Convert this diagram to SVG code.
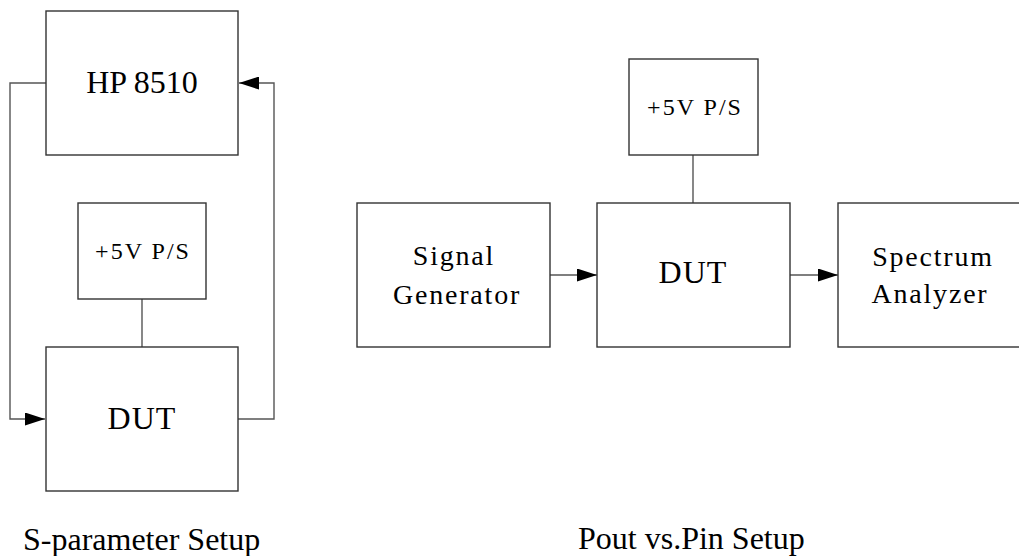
<svg xmlns="http://www.w3.org/2000/svg" width="1019" height="556" viewBox="0 0 1019 556">
<defs>
<style>
.box{fill:#fff;stroke:#333;stroke-width:1.4}
.wire{fill:none;stroke:#555;stroke-width:1.4}
.t{font-family:"Liberation Serif","Times New Roman",serif;fill:#000;text-anchor:middle}
.big{font-size:32px}
.ps{font-size:24px;letter-spacing:2px}
.mid{font-size:28px;letter-spacing:1.8px}
.cap{font-family:"Liberation Serif","Times New Roman",serif;fill:#000;font-size:32px}
</style>
<marker id="arr" viewBox="0 0 20 13" refX="20" refY="6.5" markerWidth="20" markerHeight="13" markerUnits="userSpaceOnUse" orient="auto">
<path d="M0,0 L20,6.5 L0,13 Z" fill="#000"/>
</marker>
</defs>
<rect width="1019" height="556" fill="#fff"/>
<g id="connectors">
<path class="wire" d="M46,83 H10 V419 H45" marker-end="url(#arr)"/>
<path class="wire" d="M238,419 H274 V83 H239" marker-end="url(#arr)"/>
<path class="wire" d="M142,299 V347"/>
<path class="wire" d="M550,275 H597" marker-end="url(#arr)"/>
<path class="wire" d="M790,275 H838" marker-end="url(#arr)"/>
<path class="wire" d="M693,155 V203"/>
</g>
<g id="hp8510">
<rect class="box" x="46" y="11" width="192" height="144"/>
<text class="t big" x="142" y="93">HP 8510</text>
</g>
<g id="ps-left">
<rect class="box" x="78" y="203" width="128" height="96"/>
<text class="t ps" x="143" y="259">+5V P/S</text>
</g>
<g id="dut-left">
<rect class="box" x="46" y="347" width="192" height="144"/>
<text class="t big" x="142" y="429" style="letter-spacing:1px">DUT</text>
</g>
<g id="siggen">
<rect class="box" x="357" y="203" width="193" height="144"/>
<text class="t mid" x="454" y="265">Signal</text>
<text class="t mid" x="457" y="304">Generator</text>
</g>
<g id="ps-right">
<rect class="box" x="629" y="59" width="129" height="96"/>
<text class="t ps" x="695" y="115">+5V P/S</text>
</g>
<g id="dut-right">
<rect class="box" x="597" y="203" width="193" height="144"/>
<text class="t big" x="693" y="283" style="letter-spacing:1px">DUT</text>
</g>
<g id="spectrum">
<rect class="box" x="838" y="203" width="200" height="144"/>
<text class="t mid" x="933" y="266">Spectrum</text>
<text class="t mid" x="930" y="303">Analyzer</text>
</g>
<g id="captions">
<text class="cap" x="23" y="550">S-parameter Setup</text>
<text class="cap" x="578" y="549">Pout vs.Pin Setup</text>
</g>
</svg>
